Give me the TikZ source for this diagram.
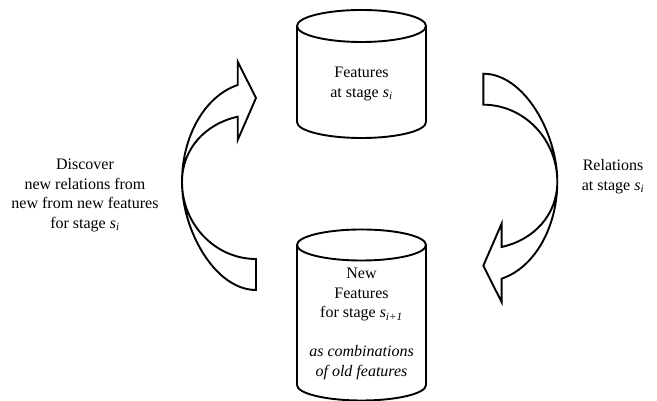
\documentclass[tikz,border=0pt]{standalone}
\usepackage{fontspec}
\setmainfont{Liberation Serif}
\newcommand{\svar}[1]{\textit{s}\textsubscript{\textit{#1}}}
\newcommand{\bentarrowpath}{%
  (237.7,316) -- (237.7,339.3) -- (256,303) -- (237.7,261) -- (237.7,284.3)
  .. controls (205,277) and (182,252) .. (182,219)
  .. controls (182,176.6) and (215.3,142) .. (256,142)
  -- (256,111)
  .. controls (215.3,111) and (182,170.4) .. (182,219)
  .. controls (182,265) and (205,305) .. (237.7,316) -- cycle}
\tikzset{
  outline/.style={draw=black, line width=1.9pt, line join=miter, fill=white},
  lbl/.style={align=center, font=\fontsize{16}{19.5}\selectfont, inner sep=0pt}
}
\begin{document}
\begin{tikzpicture}[x=1pt,y=1pt]
\useasboundingbox (0,0) rectangle (657,401);
% top cylinder
\draw[outline] (297,375) -- (297,279) arc[start angle=180,end angle=360,x radius=64.5,y radius=16] -- (426,375);
\draw[outline] (361.5,375) ellipse [x radius=64.5,y radius=16];
\node[lbl] (top) at (361.5,317) {Features\\at stage \svar{i}};
% bottom cylinder
\draw[outline] (297,156) -- (297,16) arc[start angle=180,end angle=360,x radius=64.5,y radius=15.5] -- (426,156);
\draw[outline] (361.5,156) ellipse [x radius=64.5,y radius=15.5];
\node[lbl] (bottom) at (361.5,77) {New\\Features\\for stage \svar{i+1}\\[19.5pt]\textit{as combinations}\\\textit{of old features}};
% arrows
\draw[outline] \bentarrowpath;
\begin{scope}[rotate around={180:(369.65,219.15)}]
\draw[outline] \bentarrowpath;
\end{scope}
% side labels
\node[lbl] (left) at (85,205.6) {Discover\\new relations from\\new from new features\\for stage \svar{i}};
\node[lbl] (right) at (613,224.5) {Relations\\at stage \svar{i}};
\end{tikzpicture}
\end{document}
